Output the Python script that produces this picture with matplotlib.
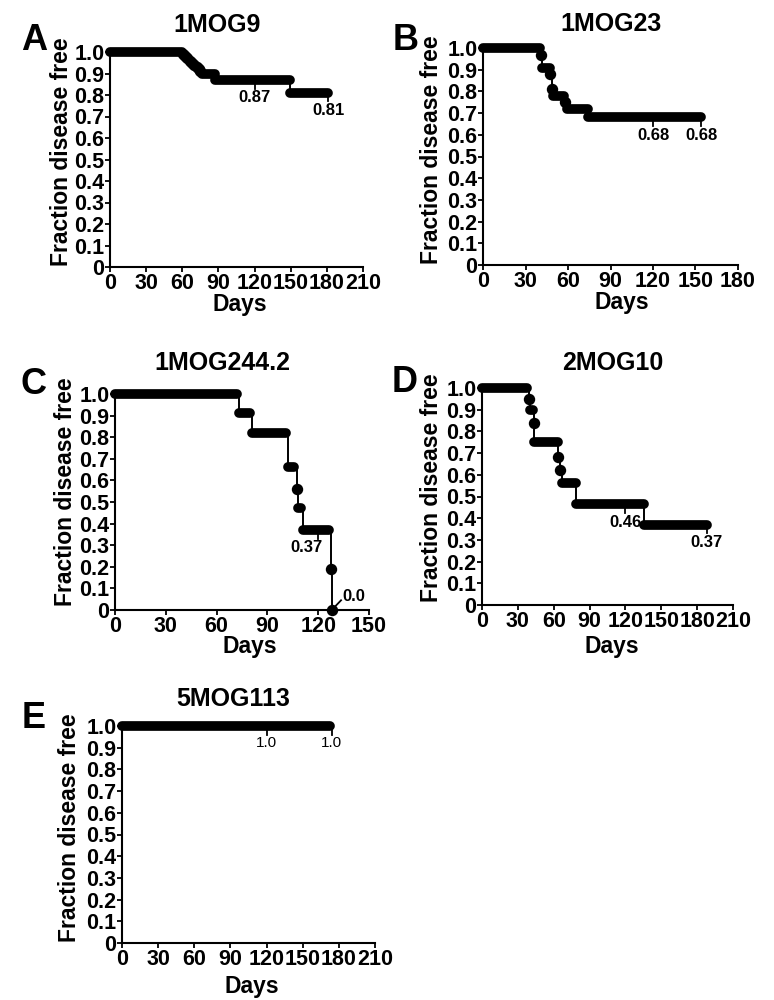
import numpy as np
import matplotlib.pyplot as plt

plt.rcParams['font.family'] = ['Liberation Sans', 'DejaVu Sans']
plt.rcParams['font.weight'] = 'bold'

# plateaus of each Kaplan-Meier curve: start day, end day, fraction free
# (start == end means a single point)
a_start = [0, 61, 62.5, 64, 66, 68, 70, 72, 74, 75, 76, 87, 149]
a_end = [60, 61, 62.5, 64, 66, 68, 70, 72, 74, 75, 87, 149, 181]
a_level = [1.0, 0.99, 0.98, 0.97, 0.96, 0.95, 0.94, 0.93, 0.92, 0.91, 0.90, 0.87, 0.81]
a_note_day = [120, 181]
a_note_val = [0.87, 0.81]
a_note_txt = ["0.87", "0.81"]

b_start = [0, 41, 41.5, 47.5, 49, 49.5, 58, 59, 74]
b_end = [40, 41, 47, 47.5, 49, 57.5, 58, 74, 154]
b_level = [1.0, 0.97, 0.91, 0.88, 0.81, 0.78, 0.75, 0.72, 0.68]
b_note_day = [120, 154]
b_note_val = [0.68, 0.68]
b_note_txt = ["0.68", "0.68"]

c_start = [0, 73, 81, 102, 107.5, 108, 111, 127.5, 128]
c_end = [72, 80, 101, 106, 107.5, 110, 126.5, 127.5, 128]
c_level = [1.0, 0.91, 0.82, 0.66, 0.56, 0.47, 0.37, 0.19, 0.0]
c_note_day = [120]
c_note_val = [0.37]
c_note_txt = ["0.37"]

d_start = [0, 39.5, 40.5, 43.5, 43.5, 64, 65.5, 67, 79, 135.5]
d_end = [37.5, 39.5, 43, 43.5, 63.5, 64, 65.5, 78.5, 135.5, 188]
d_level = [1.0, 0.95, 0.90, 0.84, 0.75, 0.68, 0.62, 0.56, 0.465, 0.37]
d_note_day = [120, 188]
d_note_val = [0.465, 0.37]
d_note_txt = ["0.46", "0.37"]

e_start = [0]
e_end = [173]
e_level = [1.0]
e_note_day = [120, 174]
e_note_val = [1.0, 1.0]
e_note_txt = ["1.0", "1.0"]

letters = ["A", "B", "C", "D", "E"]
titles = ["1MOG9", "1MOG23", "1MOG244.2", "2MOG10", "5MOG113"]
x_max = [210, 180, 150, 210, 210]

curves = [
    (a_start, a_end, a_level, a_note_day, a_note_val, a_note_txt),
    (b_start, b_end, b_level, b_note_day, b_note_val, b_note_txt),
    (c_start, c_end, c_level, c_note_day, c_note_val, c_note_txt),
    (d_start, d_end, d_level, d_note_day, d_note_val, d_note_txt),
    (e_start, e_end, e_level, e_note_day, e_note_val, e_note_txt),
]

# layout in pixels: axes x0, x1, y(1.0), y(0); title, letter, xlabel, ylabel centres
W, H = 774, 1000
boxes = [(110, 363, 52, 267), (483, 738, 48, 265), (115, 369, 394, 610),
         (482, 733, 388, 605), (122, 375, 726, 943)]
title_pos = [(217, 25), (611, 24), (222, 363), (613, 363), (233, 699)]
letter_pos = [(34, 40), (406, 41), (34, 385), (405, 383), (34, 718)]
xlab_pos = [(240, 304), (622, 302), (250, 647), (612, 647), (252, 986)]
ylab_pos = [(61, 152), (432, 150), (65, 492), (432, 488), (69, 828)]
# horizontal shift of note labels (days), C's label sits left of its tick
note_shift = [0, 0, -7, 0, 0]

fig = plt.figure(figsize=(W / 100, H / 100), dpi=100)


def fx(x):
    return x / W


def fy(y):
    return 1 - y / H


for i in range(5):
    x0, x1, yt, yb = boxes[i]
    ax = fig.add_axes([fx(x0), fy(yb), (x1 - x0) / W, (yb - yt) / H])
    start, end, level, nday, nval, ntxt = curves[i]

    # thin step line through the curve
    xs, ys = [], []
    for k in range(len(start)):
        nxt = start[k + 1] if k + 1 < len(start) else end[k]
        xs += [start[k], nxt]
        ys += [level[k], level[k]]
    ax.plot(xs, ys, color='black', lw=1.4, clip_on=False, zorder=3)

    # thick censored plateaus and single points
    for s, e, l in zip(start, end, level):
        if e > s:
            ax.plot([s, e], [l, l], color='black', lw=7,
                    solid_capstyle='round', clip_on=False, zorder=4)
        else:
            ax.plot([s], [l], 'o', color='black', ms=7.2, clip_on=False, zorder=4)

    # value notes under the curve
    for d, v, t in zip(nday, nval, ntxt):
        if v == 0:
            continue
        ax.plot([d, d], [v, v - 0.04], color='black', lw=1.3, clip_on=False)
        if i == 4:
            ax.text(d, v - 0.048, t, ha='center', va='top', fontsize=11,
                    fontweight='normal')
        else:
            ax.text(d + note_shift[i], v - 0.048, t, ha='center', va='top',
                    fontsize=12)

    if i == 2:
        ax.plot([c_start[-1], 133.5], [0, 0.045], color='black', lw=1.3,
                clip_on=False, zorder=5)
        ax.text(134.5, 0.04, "0.0", ha='left', va='baseline', fontsize=12)

    ax.set_xlim(0, x_max[i])
    ax.set_ylim(0, 1.0)
    ax.set_xticks(np.arange(0, x_max[i] + 1, 30))
    ax.set_yticks(np.round(np.arange(0, 1.01, 0.1), 1))
    ax.set_yticklabels(["0"] + ["%.1f" % v for v in np.arange(0.1, 1.01, 0.1)])
    for side in ['top', 'right']:
        ax.spines[side].set_visible(False)
    for side in ['left', 'bottom']:
        ax.spines[side].set_linewidth(1.5)
    ax.tick_params(direction='out', length=3.5, width=1.3, labelsize=15.5, pad=0.5)
    ax.patch.set_alpha(0)

    fig.text(fx(title_pos[i][0]), fy(title_pos[i][1]), titles[i],
             ha='center', va='center', fontsize=18)
    fig.text(fx(letter_pos[i][0]), fy(letter_pos[i][1]), letters[i],
             ha='center', va='center', fontsize=26)
    fig.text(fx(xlab_pos[i][0]), fy(xlab_pos[i][1]), "Days",
             ha='center', va='center', fontsize=16.5)
    fig.text(fx(ylab_pos[i][0]), fy(ylab_pos[i][1]), "Fraction disease free",
             ha='center', va='center', rotation=90, fontsize=16.5)

fig.savefig("out.png", dpi=100)
